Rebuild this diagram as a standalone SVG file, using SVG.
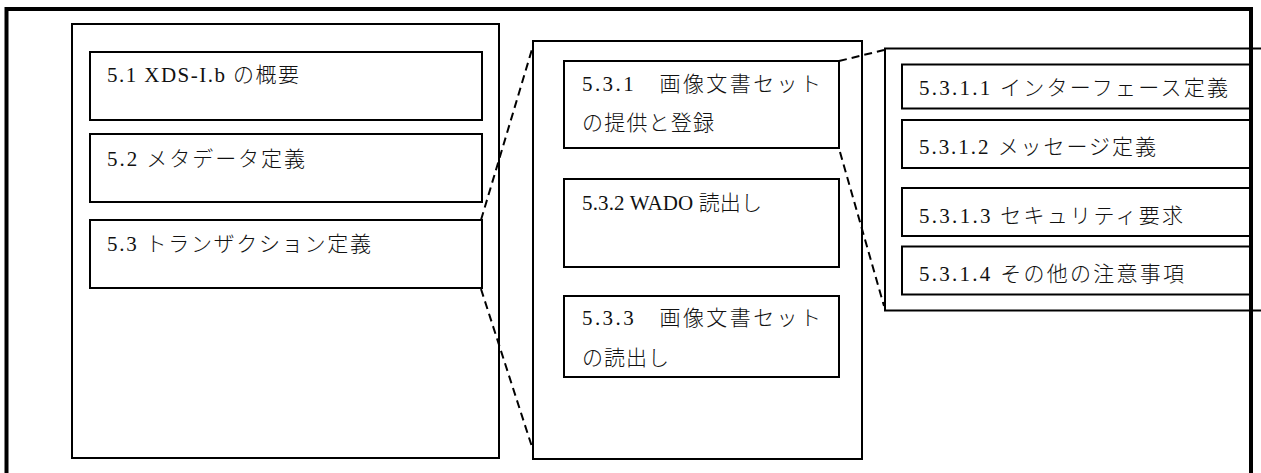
<svg xmlns="http://www.w3.org/2000/svg" width="1261" height="473" viewBox="0 0 1261 473">
<style>
.box{fill:#fff;stroke:#000;stroke-width:2}
.frame{fill:none;stroke:#000;stroke-width:4}
.dash{fill:none;stroke:#000;stroke-width:2;stroke-dasharray:8 5}
text{font-family:"Liberation Serif","Noto Sans CJK JP",serif;font-size:21px;fill:#111;font-weight:300}
</style>
<rect x="0" y="0" width="1261" height="473" fill="#fff"/>
<g id="sec5">
<rect class="box" x="72" y="24" width="427" height="434"/>
</g>
<g id="sec5-1">
<rect class="box" x="90" y="52" width="392" height="68"/>
<text x="107" y="82" textLength="192" lengthAdjust="spacing">5.1 XDS-I.b の概要</text>
</g>
<g id="sec5-2">
<rect class="box" x="90" y="134" width="392" height="68"/>
<text x="107" y="166" textLength="198" lengthAdjust="spacing">5.2 メタデータ定義</text>
</g>
<g id="sec5-3">
<rect class="box" x="90" y="220" width="392" height="68"/>
<text x="107" y="251" textLength="264" lengthAdjust="spacing">5.3 トランザクション定義</text>
</g>
<g id="sec5-3-panel">
<rect class="box" x="533" y="41" width="329" height="418"/>
</g>
<g id="sec5-3-1">
<rect class="box" x="564" y="61" width="275" height="87"/>
<text x="582" y="91" textLength="239" lengthAdjust="spacing">5.3.1　画像文書セット</text>
<text x="582" y="130" textLength="132" lengthAdjust="spacing">の提供と登録</text>
</g>
<g id="sec5-3-2">
<rect class="box" x="564" y="179" width="275" height="88"/>
<text x="582" y="210" textLength="180" lengthAdjust="spacing">5.3.2 WADO 読出し</text>
</g>
<g id="sec5-3-3">
<rect class="box" x="564" y="296" width="275" height="81"/>
<text x="582" y="325" textLength="239" lengthAdjust="spacing">5.3.3　画像文書セット</text>
<text x="582" y="365" textLength="87" lengthAdjust="spacing">の読出し</text>
</g>
<g id="sec5-3-1-panel">
<rect class="box" x="885" y="48.5" width="400" height="262"/>
</g>
<g id="sec5-3-1-1">
<rect class="box" x="902" y="64.5" width="348" height="44"/>
<text x="919" y="95" textLength="309" lengthAdjust="spacing">5.3.1.1 インターフェース定義</text>
</g>
<g id="sec5-3-1-2">
<rect class="box" x="902" y="120" width="348" height="48"/>
<text x="919" y="154" textLength="237" lengthAdjust="spacing">5.3.1.2 メッセージ定義</text>
</g>
<g id="sec5-3-1-3">
<rect class="box" x="902" y="188" width="348" height="48"/>
<text x="919" y="223" textLength="264" lengthAdjust="spacing">5.3.1.3 セキュリティ要求</text>
</g>
<g id="sec5-3-1-4">
<rect class="box" x="902" y="246.5" width="348" height="48"/>
<text x="919" y="281" textLength="265" lengthAdjust="spacing">5.3.1.4 その他の注意事項</text>
</g>
<g id="connectors">
<line class="dash" x1="481" y1="220" x2="533" y2="46"/>
<line class="dash" x1="481" y1="289" x2="533" y2="450"/>
<line class="dash" x1="839" y1="61" x2="884" y2="50"/>
<line class="dash" x1="840" y1="152" x2="884" y2="306"/>
</g>
<g id="frame">
<rect class="frame" x="6.5" y="9" width="1244.5" height="520"/>
</g>
</svg>
